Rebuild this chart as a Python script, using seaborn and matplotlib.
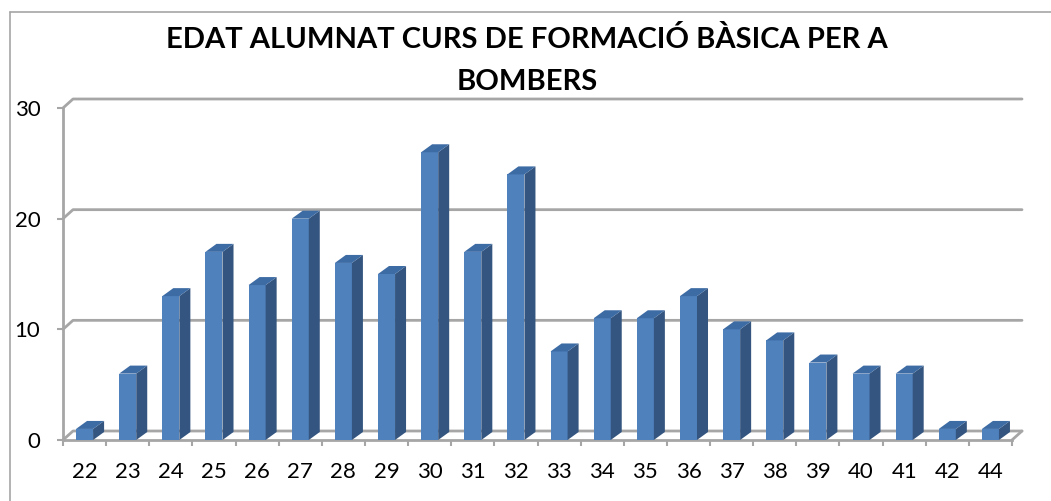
import numpy as np
import pandas as pd
import matplotlib
matplotlib.use('Agg')
import matplotlib.pyplot as plt
from matplotlib.patches import Polygon
from matplotlib.lines import Line2D
import seaborn as sb

# data
ages = ['22', '23', '24', '25', '26', '27', '28', '29', '30', '31', '32',
        '33', '34', '35', '36', '37', '38', '39', '40', '41', '42', '44']
counts = [1, 6, 13, 17, 14, 20, 16, 15, 26, 17, 24,
          8, 11, 11, 13, 10, 9, 7, 6, 6, 1, 1]
yticks = [0, 10, 20, 30]
titleLines = ['EDAT ALUMNAT CURS DE FORMACIÓ BÀSICA PER A', 'BOMBERS']

df = pd.DataFrame({'edat': ages, 'alumnes': counts})

sb.set_style('white')
plt.rcParams['font.family'] = ['Lato', 'DejaVu Sans']
plt.rcParams['text.color'] = 'black'
plt.rcParams['xtick.labelcolor'] = 'black'
plt.rcParams['ytick.labelcolor'] = 'black'

frontCol = '#4f81bd'
sideCol = '#34557f'
topCol = '#3d6ba4'
gridCol = '#a6a6a6'

W, H = 1051, 501
fig = plt.figure(figsize=(W / 100, H / 100), dpi=100)
ax = fig.add_axes([63 / W, (H - 440) / H, (1012 - 63) / W, (440 - 108) / H])

sb.barplot(data=df, x='edat', y='alumnes', order=ages, color=frontCol,
           saturation=1, width=0.395, ax=ax, zorder=3, edgecolor='none')

ax.set_xlim(-0.5, len(ages) - 0.5)
ax.set_ylim(0, 30)
ax.set_yticks(yticks)
ax.set_xlabel('')
ax.set_ylabel('')

# depth of the 3d box (data units)
dx = 10 / 43.1
dy = 9 / 11.07

# back wall gridlines + the little diagonals
x0, x1 = -0.5, len(ages) - 0.5
for v in yticks:
    ax.add_line(Line2D([x0, x0 + dx, x1 + dx], [v, v + dy, v + dy], color=gridCol,
                       lw=2, clip_on=False, zorder=1))
ax.add_line(Line2D([x1, x1 + dx], [0, dy], color=gridCol, lw=2, clip_on=False, zorder=1))

# 3d sides and tops of bars
bdx = 11 / 43.1
bdy = 8 / 11.07
for p in ax.patches:
    bx, by = p.get_x(), p.get_y()
    bw, bh = p.get_width(), p.get_height()
    side = Polygon([[bx + bw, by], [bx + bw + bdx, by + bdy], [bx + bw + bdx, by + bh + bdy], [bx + bw, by + bh]],
                   closed=True, facecolor=sideCol, edgecolor='none', clip_on=False, zorder=3)
    top = Polygon([[bx, by + bh], [bx + bdx, by + bh + bdy], [bx + bw + bdx, by + bh + bdy], [bx + bw, by + bh]],
                  closed=True, facecolor=topCol, edgecolor='none', clip_on=False, zorder=3)
    ax.add_patch(side)
    ax.add_patch(top)

# axes styling
for s in ['top', 'right']:
    ax.spines[s].set_visible(False)
for s in ['left', 'bottom']:
    ax.spines[s].set_color(gridCol)
    ax.spines[s].set_linewidth(2)
    ax.spines[s].set_zorder(2)
ax.set_xticks(np.arange(len(ages)), ages)
ax.minorticks_on()
ax.set_xticks(np.arange(len(ages) + 1) - 0.5, minor=True)
ax.yaxis.set_minor_locator(matplotlib.ticker.NullLocator())
ax.tick_params(axis='x', which='minor', length=4.3, width=1.5, color=gridCol, direction='out', bottom=True)
ax.tick_params(axis='x', which='major', length=0, pad=15.5, labelsize=16)
ax.tick_params(axis='y', length=4.3, width=1.5, color=gridCol, direction='out', left=True, pad=12, labelsize=16)

# chart border
fig.add_artist(Line2D([10 / W, 1.0], [(H - 12) / H, (H - 12) / H], transform=fig.transFigure, color=gridCol, lw=1.2))
fig.add_artist(Line2D([10 / W, 10 / W], [0, (H - 12) / H], transform=fig.transFigure, color=gridCol, lw=1.2))

# title, two lines
fig.text(527 / W, (H - 48) / H, titleLines[0], ha='center', va='baseline', fontsize=21,
         fontweight='bold', color='black')
fig.text(527 / W, (H - 90) / H, titleLines[1], ha='center', va='baseline', fontsize=21,
         fontweight='bold', color='black')

plt.savefig('out.png', dpi=100)
